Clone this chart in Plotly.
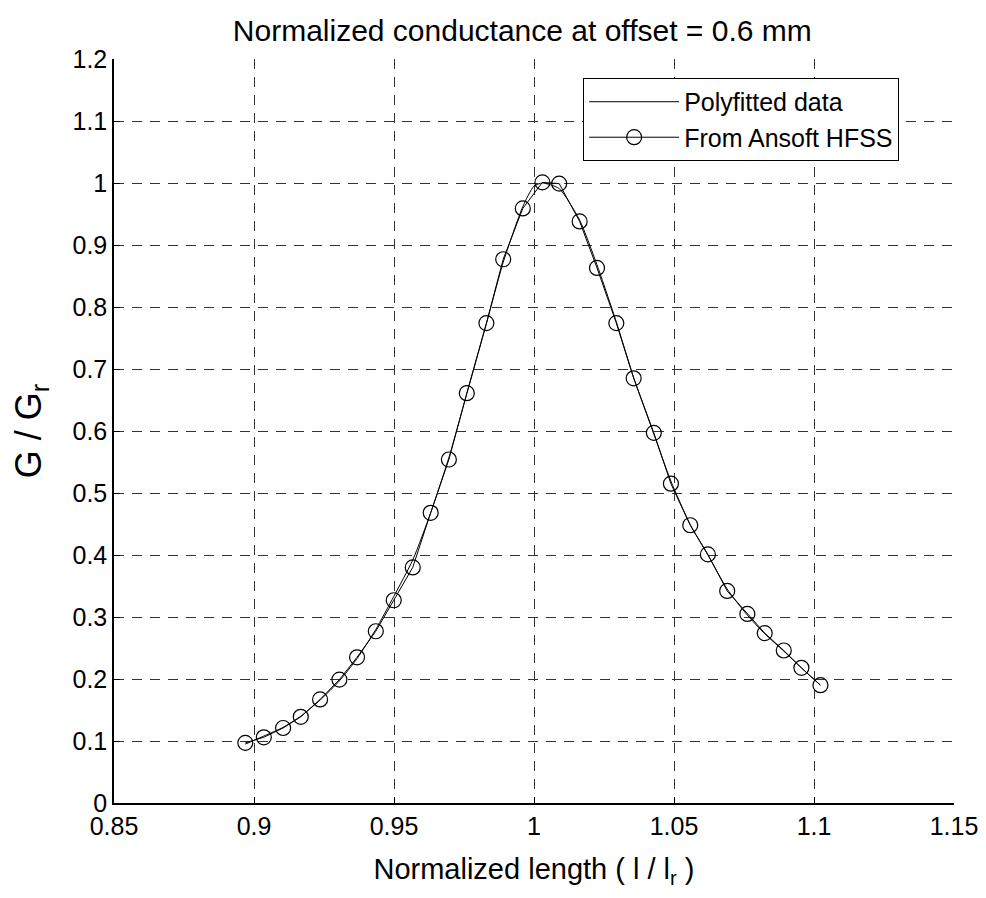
import plotly.graph_objects as go

# HFSS simulated points
hfss_x = [0.8969, 0.9035, 0.9104, 0.9167, 0.9236, 0.9305, 0.9368, 0.9435,
          0.9499, 0.9567, 0.9631, 0.9696, 0.9760, 0.9830, 0.9890, 0.9960,
          1.0030, 1.0090, 1.0163, 1.0225, 1.0294, 1.0356, 1.0428, 1.0489,
          1.0558, 1.0621, 1.0690, 1.0762, 1.0824, 1.0892, 1.0955, 1.1023]
hfss_y = [0.097, 0.106, 0.121, 0.139, 0.167, 0.199, 0.235, 0.277,
          0.327, 0.380, 0.468, 0.554, 0.661, 0.774, 0.877, 0.959,
          1.001, 0.999, 0.938, 0.863, 0.774, 0.685, 0.597, 0.515,
          0.448, 0.401, 0.342, 0.305, 0.274, 0.246, 0.218, 0.190]

# Polyfitted curve
poly_x = [0.8969, 0.9035, 0.9104, 0.9167, 0.9236, 0.9305, 0.9368, 0.9435,
          0.9499, 0.9567, 0.9631, 0.9696, 0.9760, 0.9830, 0.9890, 0.9960,
          1.0000, 1.0030, 1.0090, 1.0163, 1.0225, 1.0294, 1.0356, 1.0428,
          1.0489, 1.0558, 1.0621, 1.0690, 1.0762, 1.0824, 1.0892, 1.0955, 1.1023]
poly_y = [0.095, 0.108, 0.122, 0.140, 0.166, 0.197, 0.233, 0.280,
          0.333, 0.392, 0.468, 0.557, 0.660, 0.773, 0.872, 0.962,
          0.995, 1.000, 0.991, 0.940, 0.868, 0.776, 0.686, 0.595, 0.519,
          0.449, 0.400, 0.345, 0.303, 0.273, 0.245, 0.218, 0.190]

x_ticks = [0.85, 0.9, 0.95, 1, 1.05, 1.1, 1.15]
x_tick_text = ["0.85", "0.9", "0.95", "1", "1.05", "1.1", "1.15"]
y_ticks = [0, 0.1, 0.2, 0.3, 0.4, 0.5, 0.6, 0.7, 0.8, 0.9, 1, 1.1, 1.2]
y_tick_text = ["0", "0.1", "0.2", "0.3", "0.4", "0.5", "0.6", "0.7", "0.8", "0.9", "1", "1.1", "1.2"]

FONT = "Liberation Sans, Arial, sans-serif"

fig = go.Figure()
fig.add_trace(go.Scatter(
    x=poly_x, y=poly_y, mode="lines", name="Polyfitted data",
    line=dict(color="black", width=1, shape="spline", smoothing=0.6),
))
fig.add_trace(go.Scatter(
    x=hfss_x, y=hfss_y, mode="lines+markers", name="From Ansoft HFSS",
    line=dict(color="black", width=1),
    marker=dict(symbol="circle-open", size=15, color="black", line=dict(width=1.2)),
))

grid = dict(showgrid=True, gridcolor="#333333", gridwidth=1, griddash="10px,8px")

fig.update_layout(
    width=974, height=882,
    paper_bgcolor="white", plot_bgcolor="white",
    margin=dict(l=106, r=28, t=51, b=87, autoexpand=False),
    font=dict(family=FONT, color="black", size=24),
    title=dict(text="Normalized conductance at offset = 0.6 mm",
               x=0.528, xanchor="center", y=0.975, yanchor="middle",
               font=dict(size=30, family=FONT)),
    showlegend=True,
    legend=dict(x=0.5585, y=0.9745, xanchor="left", yanchor="top",
                bordercolor="black", borderwidth=1, bgcolor="white",
                font=dict(size=25, family=FONT), itemwidth=90,
                tracegroupgap=0),
)
fig.update_xaxes(
    range=[0.85, 1.15], tickvals=x_ticks, ticktext=x_tick_text,
    showline=True, linecolor="black", linewidth=1.5, mirror=False,
    ticks="inside", ticklen=6, tickcolor="black", zeroline=False,
    tickfont=dict(size=25, family=FONT), automargin=False,
    title=dict(text="Normalized length ( l / l<sub>r</sub> )", font=dict(size=29, family=FONT), standoff=20),
    **grid,
)
fig.update_yaxes(
    range=[0, 1.2], tickvals=y_ticks, ticktext=y_tick_text,
    showline=True, linecolor="black", linewidth=1.5, mirror=False,
    ticks="inside", ticklen=6, tickcolor="black", zeroline=False,
    tickfont=dict(size=25, family=FONT), automargin=False,
    title=dict(text="G / G<sub>r</sub>", font=dict(size=36, family=FONT), standoff=24),
    **grid,
)

fig.write_html("out.html")
